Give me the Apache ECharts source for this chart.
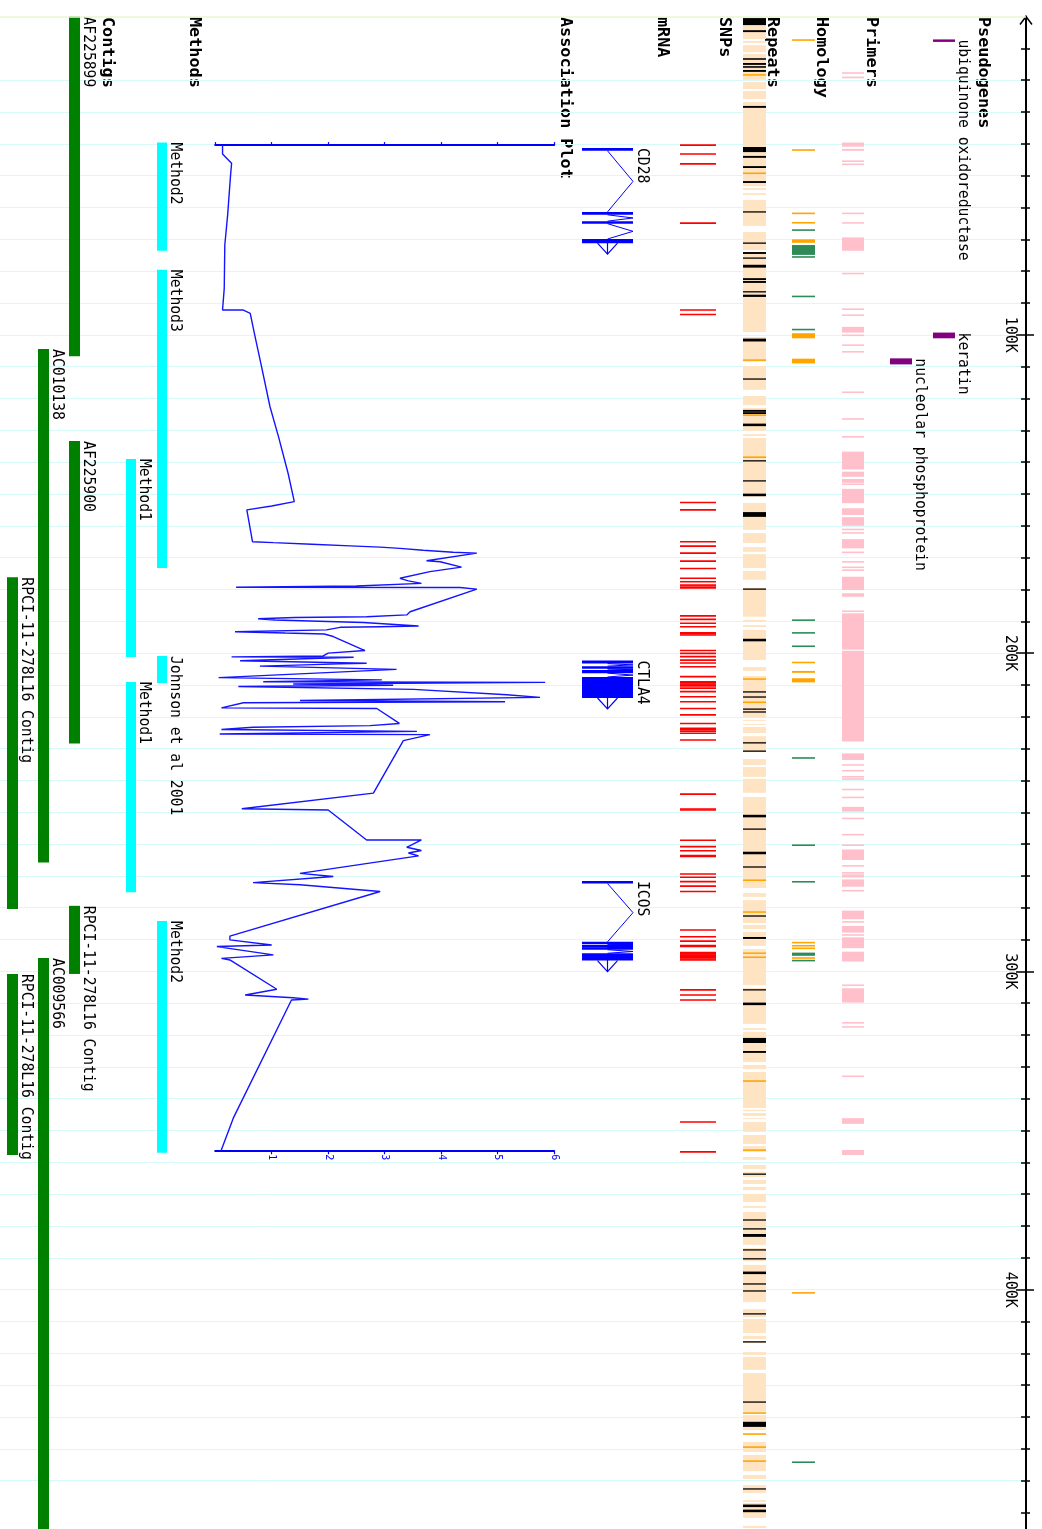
<!DOCTYPE html>
<html>
<head>
<meta charset="utf-8">
<script src="https://cdn.jsdelivr.net/npm/echarts@6/dist/echarts.min.js"></script>
<style>
  html, body { margin: 0; padding: 0; background: #fff; }
  #chart { width: 1042px; height: 1529px; }
</style>
</head>
<body>
<div id="chart"></div>
<script>
// ---------------------------------------------------------------------------
// Data (genomic positions in kb)
// ---------------------------------------------------------------------------
const genomeTickValues = [100, 200, 300, 400];
const genomeTickLabels = ['100K', '200K', '300K', '400K'];
const genomeMinorStep = 10;

const pseudogenes = [
  { name: 'ubiquinone oxidoreductase', start: 7.2, end: 7.9 },
  { name: 'keratin', start: 99.3, end: 101.1 },
  { name: 'nucleolar phosphoprotein', start: 107.4, end: 109.3 }
];

const primers = [
  [17.5, 18.0], [18.9, 19.4], [39.6, 40.9], [41.6, 42.2], [45.2, 45.7], [46.2, 46.7],
  [61.6, 62.1], [64.6, 65.1], [69.4, 73.6], [80.5, 81.0], [91.7, 92.2], [93.6, 94.1],
  [97.5, 99.3], [99.9, 100.4], [103.0, 103.5], [105.1, 105.6], [117.8, 118.3],
  [126.2, 126.7], [131.8, 132.3], [136.7, 142.3], [143.0, 144.6], [145.3, 146.5],
  [146.8, 147.1], [148.4, 152.9], [154.5, 156.6], [157.3, 160.0], [160.9, 161.4],
  [162.0, 162.5], [164.2, 167.1], [168.1, 168.6], [171.1, 171.6], [172.8, 173.3],
  [173.7, 174.2], [176.0, 180.2], [181.2, 182.3], [186.6, 187.1], [187.5, 198.9],
  [199.3, 227.8], [231.5, 233.6], [234.9, 235.4], [236.7, 237.2], [238.6, 239.1],
  [239.4, 239.7], [242.6, 243.1], [245.1, 245.6], [248.3, 249.8], [251.7, 252.2],
  [256.8, 257.3], [260.1, 260.6], [261.7, 265.0], [266.6, 267.1], [268.8, 269.3],
  [269.6, 269.9], [270.1, 270.4], [271.1, 273.4], [274.4, 274.9], [280.9, 283.6],
  [284.2, 284.7], [285.7, 287.8], [288.3, 288.8], [289.3, 292.7], [293.8, 296.9],
  [304.1, 304.6], [305.3, 309.8], [315.9, 316.4], [317.2, 317.7], [332.7, 333.2],
  [346.1, 347.9], [356.1, 357.7]
];

// Homology hits: nucleotide matches and protein matches
const homologyNucleotide = [
  [7.2, 7.6], [41.7, 42.2], [61.6, 62.1], [64.6, 65.0], [70.0, 71.1], [99.5, 101.1],
  [107.5, 109.0], [202.7, 203.2], [205.6, 206.2], [207.9, 209.2], [290.8, 291.1],
  [291.8, 292.1], [292.6, 292.9], [295.6, 296.0], [400.8, 401.2]
];
const homologyProtein = [
  [66.9, 67.3], [71.8, 74.9], [75.3, 75.8], [87.7, 88.2], [98.1, 98.6], [189.4, 189.9],
  [193.4, 193.9], [197.6, 198.1], [232.7, 233.2], [260.1, 260.6], [271.7, 272.0],
  [294.1, 295.1], [296.4, 296.8], [454.0, 454.4]
];

// Repeat annotation: interspersed blocks, simple repeats, low-complexity regions
const repeatBlocks = [
  [0.2, 7.1], [7.7, 8.3], [9.0, 11.2], [11.8, 19.9], [20.6, 22.8], [23.4, 25.9], [26.9, 53.3],
  [53.9, 54.5], [55.5, 56.1], [57.6, 65.8], [67.7, 73.4], [74.3, 99.1], [100.7, 108.5],
  [109.8, 117.3], [119.2, 122.1], [123.0, 130.2], [131.2, 131.8], [132.4, 150.9],
  [152.8, 161.3], [162.3, 165.4], [166.7, 168.2], [168.9, 173.3], [174.2, 177.0],
  [179.5, 188.6], [189.6, 190.2], [191.2, 191.8], [192.7, 202.2], [204.4, 205.6],
  [207.2, 220.4], [221.0, 221.3], [222.3, 222.6], [223.2, 225.1], [226.1, 231.1],
  [233.3, 235.2], [235.8, 238.9], [239.5, 243.9], [245.2, 273.8], [275.4, 276.6],
  [277.6, 284.8], [285.4, 286.7], [287.6, 289.5], [290.1, 292.0], [293.0, 293.9],
  [294.2, 304.3], [305.2, 316.5], [317.8, 318.4], [319.0, 328.5], [329.4, 330.7],
  [331.6, 342.9], [343.5, 343.9], [344.5, 345.4], [346.1, 346.4], [347.3, 350.4],
  [351.4, 354.2], [354.9, 356.7], [358.3, 359.2], [360.8, 362.1], [363.0, 364.6],
  [365.5, 366.8], [367.7, 368.7], [369.9, 372.5], [373.7, 374.3], [375.6, 385.9],
  [386.9, 391.0], [392.2, 403.9], [406.1, 408.6], [409.2, 413.6], [414.5, 415.5],
  [416.1, 416.8], [419.6, 420.5], [421.1, 425.2], [426.2, 438.4], [439.4, 444.1],
  [445.3, 445.6], [447.8, 451.0], [451.9, 457.0], [458.2, 459.5], [461.4, 463.9],
  [466.1, 466.7], [467.0, 471.7], [474.2, 474.9]
];
const simpleRepeats = [
  [0.5, 2.7], [4.3, 4.9], [13.1, 13.6], [14.6, 15.2], [15.6, 16.1], [16.8, 17.4], [28.1, 28.7],
  [41.0, 42.6], [43.8, 44.4], [47.0, 47.6], [51.7, 52.3], [61.2, 61.6], [71.0, 71.4],
  [74.0, 74.6], [75.7, 76.1], [78.0, 78.9], [82.2, 82.8], [83.1, 83.7], [86.3, 86.7],
  [87.4, 88.1], [101.2, 102.1], [113.7, 114.1], [123.6, 124.2], [124.3, 124.9],
  [127.9, 128.7], [139.4, 139.8], [145.7, 146.1], [149.9, 150.7], [155.7, 157.2],
  [179.7, 180.1], [195.5, 196.3], [212.0, 212.4], [213.6, 214.0], [217.4, 217.8],
  [218.3, 218.7], [228.0, 228.4], [230.6, 231.0], [250.8, 251.6], [255.1, 255.5],
  [262.4, 263.2], [267.0, 267.4], [282.4, 282.8], [289.2, 289.8], [305.6, 306.0],
  [309.8, 310.6], [320.9, 322.5], [325.0, 325.6], [363.5, 363.9], [377.9, 378.3],
  [380.7, 381.1], [382.5, 383.4], [387.3, 387.7], [390.1, 390.5], [394.3, 395.1],
  [398.0, 398.4], [400.2, 400.6], [407.4, 407.8], [416.2, 416.6], [435.1, 435.5],
  [441.5, 443.1], [462.4, 462.8], [467.5, 468.3], [469.1, 469.9]
];
const lowComplexityRepeats = [
  [18.1, 18.6], [49.0, 49.5], [107.7, 108.2], [125.0, 125.5], [138.2, 138.7], [207.9, 208.4],
  [215.2, 215.7], [271.1, 271.6], [281.1, 281.6], [294.0, 294.5], [295.3, 295.8],
  [334.2, 334.7], [355.9, 356.4], [438.5, 439.0], [445.1, 445.6], [449.2, 449.7],
  [453.6, 454.1]
];

const snps = [
  40.4, 43.2, 46.3, 64.9, 92.2, 93.6, 152.7, 155.0, 165.0, 166.4, 168.6, 171.1, 173.4,
  176.5, 177.6, 178.6, 178.9, 179.5, 188.3, 189.4, 190.6, 191.7, 193.6, 193.9, 194.3,
  199.2, 200.1, 201.1, 202.2, 203.1, 204.3, 207.4, 209.0, 209.3, 209.7, 210.0, 210.3,
  211.0, 212.1, 213.7, 215.3, 217.4, 219.4, 222.1, 223.6, 224.0, 224.5, 225.2, 227.3,
  244.3, 249.0, 249.3, 258.8, 260.8, 262.1, 263.6, 263.9, 269.4, 270.4, 271.8, 273.2,
  274.9, 287.0, 289.1, 290.5, 291.9, 292.2, 294.1, 294.5, 294.9, 295.3, 295.7, 296.1,
  296.4, 305.8, 307.4, 309.0, 347.3, 356.7
];

const mrnaNames = ['CD28', 'CTLA4', 'ICOS'];
const mrnaExons = [
  [[41.3, 42.2], [61.4, 62.3], [64.3, 64.8], [69.9, 71.2]],
  [[202.3, 203.3], [204.1, 204.6], [205.3, 206.3], [207.5, 214.1]],
  [[271.6, 272.1], [290.7, 291.2], [291.7, 292.0], [292.4, 292.8], [294.3, 296.6]]
];

// Association plot: [position kb, score]
const assocScores = [
  [40.4, 0.13], [43.2, 0.13], [46.1, 0.29], [50.3, 0.27], [62.4, 0.22], [71.8, 0.17],
  [85.4, 0.16], [92.2, 0.13], [92.2, 0.49], [93.3, 0.62], [100.1, 0.70], [110.0, 0.82],
  [122.6, 0.97], [132.0, 1.12], [143.5, 1.29], [152.4, 1.40], [153.8, 1.00], [155.0, 0.56],
  [165.0, 0.66], [165.3, 1.03], [165.8, 1.71], [166.3, 2.39], [166.7, 2.92], [167.1, 3.27],
  [167.7, 3.68], [168.3, 4.21], [168.6, 4.63], [171.0, 3.74], [171.3, 3.98], [173.0, 4.36],
  [174.4, 3.80], [176.5, 3.27], [177.3, 3.42], [178.1, 3.65], [178.9, 2.50], [179.3, 0.37],
  [179.4, 4.33], [179.9, 4.63], [187.0, 3.45], [188.0, 3.39], [188.6, 2.68], [188.8, 1.41],
  [189.2, 0.76], [189.6, 1.06], [190.4, 2.62], [191.5, 3.60], [191.7, 2.92], [191.9, 2.21],
  [192.7, 1.97], [193.3, 0.35], [193.7, 1.24], [194.0, 1.93], [194.8, 2.09], [199.2, 2.65],
  [200.0, 2.00], [200.9, 1.91], [201.2, 0.29], [201.3, 2.45], [202.4, 0.44], [203.2, 2.68],
  [203.4, 2.21], [204.1, 0.79], [205.1, 3.21], [207.7, 0.06], [208.4, 2.95], [209.0, 0.85],
  [209.2, 5.84], [209.7, 1.38], [210.1, 3.15], [210.5, 0.41], [211.4, 3.51], [213.1, 5.16],
  [213.9, 5.75], [214.9, 1.50], [215.3, 5.13], [215.6, 0.50], [217.2, 0.11], [217.4, 2.86],
  [222.1, 3.26], [222.8, 2.74], [223.3, 0.67], [224.0, 0.11], [224.6, 3.57], [225.4, 0.08],
  [225.6, 3.80], [227.5, 3.33], [244.0, 2.80], [248.9, 0.47], [249.3, 2.00], [258.7, 2.68],
  [258.7, 3.65], [261.0, 3.39], [262.0, 3.65], [262.8, 3.42], [263.7, 3.60], [269.2, 1.50],
  [270.2, 2.09], [272.1, 0.67], [272.8, 1.50], [274.9, 2.92], [288.9, 0.26], [290.1, 0.26],
  [291.7, 1.00], [292.2, 0.03], [294.8, 1.03], [295.9, 0.11], [296.4, 0.26], [305.6, 1.09],
  [307.4, 0.53], [308.3, 1.38], [308.7, 1.65], [309.0, 1.35], [346.1, 0.32], [356.5, 0.10]
];
const assocTickLabels = ['1', '2', '3', '4', '5', '6'];

const methods = [
  { name: 'Method2', start: 39.6, end: 73.6 },
  { name: 'Method3', start: 79.6, end: 173.3 },
  { name: 'Method1', start: 139.0, end: 201.2 },
  { name: 'Johnson et al 2001', start: 200.9, end: 209.4 },
  { name: 'Method1', start: 209.1, end: 275.1 },
  { name: 'Method2', start: 284.2, end: 357.0 }
];

const contigs = [
  { name: 'AF225899', start: 0, end: 106.7 },
  { name: 'AC010138', start: 104.5, end: 265.8 },
  { name: 'AF225900', start: 133.4, end: 228.4 },
  { name: 'RPCI-11-278L16 Contig', start: 176.2, end: 280.4 },
  { name: 'RPCI-11-278L16 Contig', start: 279.4, end: 300.8 },
  { name: 'AC009566', start: 295.8, end: 480 },
  { name: 'RPCI-11-278L16 Contig', start: 300.8, end: 357.7 }
];

const trackTitles = ['Pseudogenes', 'Primers', 'Homology', 'Repeats', 'SNPs', 'mRNA',
                     'Association Plot', 'Methods', 'Contigs'];

// ---------------------------------------------------------------------------
// Layout and styling
// ---------------------------------------------------------------------------
const W = 1042, H = 1529;
const GENOME_TOP = 16.5;       // pixel row of position 0
const PX_PER_KB = 3.183;
const GENOME_VISIBLE_KB = (H - GENOME_TOP) / PX_PER_KB;
const AXIS_X = 1026;

const FAMILY = '"DejaVu Sans Mono", "Liberation Mono", monospace';
const LABEL_FONT = '15px ' + FAMILY;
const TITLE_FONT = 'bold 15px ' + FAMILY;
const LABEL_STRETCH = 0.98;
const TITLE_STRETCH = 1.12;
const CHAR_ADVANCE = 15 * 0.602 * LABEL_STRETCH;

// title origin (left side of the rotated text box) for each track
const titleX = {
  'Pseudogenes': 975, 'Primers': 863, 'Homology': 813, 'Repeats': 764, 'SNPs': 716,
  'mRNA': 654, 'Association Plot': 557, 'Methods': 186, 'Contigs': 99
};
const columns = {
  pseudogenes: { x: 933, width: 22, step: 43, color: '#800080', minH: 2.5 },
  primers: { x: 842, width: 22 },
  homology: { x: 792, width: 23 },
  repeats: { x: 743, width: 23 },
  snps: { x: 680, width: 36 },
  mrna: { left: 582, right: 633, center: 607.5, label: 634 },
  methods: { x: 157, width: 10, step: 31, color: '#00FFFF', minH: 2 },
  contigs: { x: 69, width: 11, step: 31, color: '#008000', minH: 2 }
};
const COLORS = {
  primer: '#FFC0CB', nucleotide: '#FFA500', protein: '#2E8B57',
  repeat: '#FFE4C4', simple: '#000000', lowComplexity: '#FFA500',
  snp: '#FF0000', mrna: '#0000FF', assoc: '#1414FF',
  grid: '#D6F9F9', origin: '#E9F6D2'
};

const assocKb = assocScores.map(d => d[0]);
const assocMin = Math.min.apply(null, assocKb);
const assocMax = Math.max.apply(null, assocKb);

// minor ruler positions every 10 kb inside the visible span
const genomeMinorTicks = [];
for (let v = genomeMinorStep; v < GENOME_VISIBLE_KB; v += genomeMinorStep) genomeMinorTicks.push(v);

// ---------------------------------------------------------------------------
// Helpers
// ---------------------------------------------------------------------------
function vText(x, y, text, font, stretch, fill) {
  // text reading top-to-bottom; (x, y) is the left/top corner of its box
  return {
    type: 'text', x: x, y: y, rotation: -Math.PI / 2, scaleX: stretch,
    style: { text: text, font: font, fill: fill || '#000', align: 'left', verticalAlign: 'bottom' }
  };
}

// greedy lane assignment so that neither bars nor their labels overlap
function packLanes(items) {
  const laneEnd = [];
  return items.map(it => {
    const reach = Math.max(it.end, it.start + it.name.length * CHAR_ADVANCE / PX_PER_KB);
    let lane = laneEnd.findIndex(e => e < it.start);
    if (lane < 0) { lane = laneEnd.length; laneEnd.push(reach); } else { laneEnd[lane] = reach; }
    return lane;
  });
}

function yOf(api, kb) { return api.coord([0, kb])[1]; }

function intervalSeries(intervals, col, color, minH) {
  return {
    type: 'custom', xAxisIndex: 0, yAxisIndex: 0, silent: true,
    data: intervals.map(iv => [0, iv[0], iv[1]]),
    encode: { x: 0, y: [1, 2] },
    renderItem: (params, api) => {
      const y0 = yOf(api, api.value(1)), y1 = yOf(api, api.value(2));
      const h = Math.max(y1 - y0, minH);
      return { type: 'rect', shape: { x: col.x, y: (y0 + y1) / 2 - h / 2, width: col.width, height: h },
               style: { fill: color } };
    }
  };
}

function labeledSeries(items, col) {
  const lanes = packLanes(items);
  return {
    type: 'custom', xAxisIndex: 0, yAxisIndex: 0, silent: true,
    data: items.map((d, i) => [i, d.start, d.end]),
    encode: { x: 0, y: [1, 2] },
    renderItem: (params, api) => {
      const i = api.value(0);
      const left = col.x - lanes[i] * col.step;
      const y0 = yOf(api, api.value(1)), y1 = yOf(api, api.value(2));
      return {
        type: 'group', children: [
          { type: 'rect', shape: { x: left, y: y0, width: col.width, height: Math.max(y1 - y0, col.minH) },
            style: { fill: col.color } },
          vText(left + col.width, y0, items[i].name, LABEL_FONT, LABEL_STRETCH)
        ]
      };
    }
  };
}

function mrnaSeries() {
  const c = columns.mrna;
  return {
    type: 'custom', xAxisIndex: 0, yAxisIndex: 0, silent: true,
    data: mrnaExons.map((ex, i) => [i, ex[0][0], ex[ex.length - 1][1]]),
    encode: { x: 0, y: [1, 2] },
    renderItem: (params, api) => {
      const i = api.value(0);
      const ex = mrnaExons[i];
      const children = [];
      const ys = ex.map(e => [yOf(api, e[0]), yOf(api, e[1])]);
      ys.forEach((y, k) => {
        const h = Math.max(y[1] - y[0], 2.5);
        children.push({ type: 'rect', shape: { x: c.left, y: y[0], width: c.right - c.left, height: h },
                        style: { fill: COLORS.mrna } });
        if (k > 0) {
          const a = ys[k - 1][0] + Math.max(ys[k - 1][1] - ys[k - 1][0], 2.5);
          const b = y[0];
          children.push({ type: 'polyline',
            shape: { points: [[c.center, a], [c.right, (a + b) / 2], [c.center, b]] },
            style: { stroke: COLORS.mrna, lineWidth: 1, fill: null } });
        }
      });
      const last = ys[ys.length - 1];
      const yEnd = last[0] + Math.max(last[1] - last[0], 2.5);
      children.push({ type: 'polyline',
        shape: { points: [[c.center - 10, yEnd], [c.center, yEnd + 11], [c.center + 10, yEnd]] },
        style: { stroke: COLORS.mrna, lineWidth: 1.2, fill: null } });
      children.push({ type: 'line', shape: { x1: c.center, y1: yEnd - 2, x2: c.center, y2: yEnd + 11 },
        style: { stroke: COLORS.mrna, lineWidth: 1.2 } });
      children.push(vText(c.label, ys[0][0], mrnaNames[i], LABEL_FONT, LABEL_STRETCH));
      return { type: 'group', children: children };
    }
  };
}

function snpSeries() {
  return {
    type: 'custom', xAxisIndex: 0, yAxisIndex: 0, silent: true,
    data: snps.map(p => [0, p]),
    encode: { x: 0, y: 1 },
    renderItem: (params, api) => {
      const y = yOf(api, api.value(1));
      return { type: 'rect', shape: { x: columns.snps.x, y: y - 0.8, width: columns.snps.width, height: 1.6 },
               style: { fill: COLORS.snp } };
    }
  };
}

// chevron at the start of the genomic ruler
function rulerArrowSeries() {
  return {
    type: 'custom', xAxisIndex: 0, yAxisIndex: 0, silent: true,
    data: [[0, 0]],
    encode: { x: 0, y: 1 },
    renderItem: (params, api) => {
      const y = yOf(api, api.value(1));
      return { type: 'polyline',
        shape: { points: [[AXIS_X - 6, y + 8], [AXIS_X, y], [AXIS_X + 6, y + 8]] },
        style: { stroke: '#000', lineWidth: 1.5, fill: null } };
    }
  };
}

// ---------------------------------------------------------------------------
// Chart
// ---------------------------------------------------------------------------
const chart = echarts.init(document.getElementById('chart'), null, { renderer: 'canvas' });

// Genomic ruler: overlapping axes give ticks on both sides of the line
function genomeAxis(extra) {
  return Object.assign({
    gridIndex: 0, type: 'value', inverse: true, min: 0, max: GENOME_VISIBLE_KB,
    interval: genomeMinorStep, position: 'right',
    axisLine: { show: false, onZero: false }, axisLabel: { show: false }, splitLine: { show: false }
  }, extra);
}
const tickStyle = { color: '#000', width: 1.5 };

const assocXBase = {
  gridIndex: 1, type: 'value', min: 0, max: 6, interval: 1,
  axisLine: { show: true, onZero: false, lineStyle: { color: COLORS.mrna, width: 2 } },
  axisTick: { show: true, length: 3, lineStyle: { color: COLORS.mrna, width: 1.2 } },
  splitLine: { show: false }
};

chart.setOption({
  animation: false,
  backgroundColor: '#fff',
  grid: [
    { left: 0, top: GENOME_TOP, width: AXIS_X, height: GENOME_VISIBLE_KB * PX_PER_KB },
    { left: 215.2, width: 339, top: GENOME_TOP + assocMin * PX_PER_KB,
      height: (assocMax - assocMin) * PX_PER_KB }
  ],
  xAxis: [
    { gridIndex: 0, type: 'value', min: 0, max: AXIS_X, show: false },
    Object.assign({}, assocXBase, { position: 'top', axisLabel: { show: false } }),
    Object.assign({}, assocXBase, {
      position: 'bottom',
      axisLabel: {
        show: true, rotate: -90, margin: 3, color: COLORS.mrna, fontFamily: FAMILY, fontSize: 10,
        showMinLabel: false, formatter: v => assocTickLabels[v - 1] || ''
      }
    })
  ],
  yAxis: [
    genomeAxis({
      axisLine: { show: true, onZero: false, lineStyle: { color: '#000', width: 2 } },
      axisTick: { show: true, length: 4, lineStyle: tickStyle, customValues: genomeMinorTicks },
      splitLine: { show: true, showMinLine: false, showMaxLine: false,
                   lineStyle: { color: COLORS.grid, width: 1 } }
    }),
    genomeAxis({ axisTick: { show: true, inside: true, length: 5, lineStyle: tickStyle,
                             customValues: genomeMinorTicks } }),
    genomeAxis({ axisTick: { show: true, length: 8, lineStyle: tickStyle, customValues: genomeTickValues } }),
    genomeAxis({
      axisTick: { show: true, inside: true, length: 10, lineStyle: tickStyle, customValues: genomeTickValues },
      axisLabel: {
        show: true, inside: true, rotate: -90, margin: 9, color: '#000', fontFamily: FAMILY, fontSize: 15,
        customValues: genomeTickValues,
        formatter: v => { const k = genomeTickValues.indexOf(v); return k >= 0 ? genomeTickLabels[k] : ''; }
      }
    }),
    { gridIndex: 1, type: 'value', inverse: true, min: assocMin, max: assocMax, show: false }
  ],
  graphic: {
    elements: trackTitles.map(t => Object.assign(vText(titleX[t], 17, t, TITLE_FONT, TITLE_STRETCH), { silent: true }))
  },
  series: [
    Object.assign(intervalSeries(repeatBlocks, columns.repeats, COLORS.repeat, 1), {
      markLine: {
        silent: true, symbol: 'none', label: { show: false },
        lineStyle: { color: COLORS.origin, width: 1.5, type: 'solid' },
        data: [{ yAxis: 0 }]
      }
    }),
    intervalSeries(simpleRepeats, columns.repeats, COLORS.simple, 1.3),
    intervalSeries(lowComplexityRepeats, columns.repeats, COLORS.lowComplexity, 1.3),
    intervalSeries(primers, columns.primers, COLORS.primer, 1.6),
    intervalSeries(homologyNucleotide, columns.homology, COLORS.nucleotide, 1.6),
    intervalSeries(homologyProtein, columns.homology, COLORS.protein, 1.6),
    snpSeries(),
    mrnaSeries(),
    labeledSeries(pseudogenes, columns.pseudogenes),
    labeledSeries(methods, columns.methods),
    labeledSeries(contigs, columns.contigs),
    {
      type: 'line', xAxisIndex: 1, yAxisIndex: 4, silent: true,
      data: assocScores.map(d => [d[1], d[0]]),
      showSymbol: false, symbol: 'none',
      lineStyle: { color: COLORS.assoc, width: 1.4 }
    },
    rulerArrowSeries()
  ]
});
</script>
</body>
</html>
